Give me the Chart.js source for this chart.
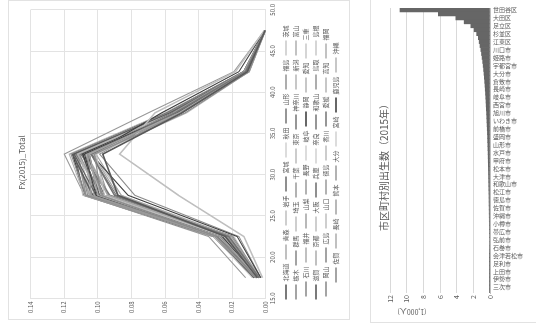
<!DOCTYPE html>
<html>
<head>
<meta charset="utf-8">
<script src="https://cdn.jsdelivr.net/npm/chart.js@4.4.0/dist/chart.umd.min.js"></script>
<style>
  html, body { margin: 0; padding: 0; background: #fff; }
  body { width: 536px; height: 333px; position: relative; overflow: hidden; }
  #leftBox {
    position: absolute; left: 8px; top: 320px;
    width: 320px; height: 342px;
    transform: rotate(-90deg); transform-origin: 0 0;
    border: 1px solid #e2e2e2; box-sizing: border-box;
  }
  #rightBox {
    position: absolute; left: 370px; top: 0;
    width: 166px; height: 323px;
    border-left: 1px solid #e2e2e2; border-bottom: 1px solid #e2e2e2;
    box-sizing: border-box;
  }
  canvas { display: block; }
</style>
</head>
<body>
<div id="leftBox"><canvas id="fx" width="318" height="340"></canvas></div>
<div id="rightBox"><canvas id="births" width="165" height="322"></canvas></div>
<script>
// age group midpoints (x axis of Fx chart)
var ages = [17.5, 22.5, 27.5, 32.5, 37.5, 42.5, 47.5];

var prefectures = ['北海道','青森','岩手','宮城','秋田','山形','福島','茨城','栃木','群馬',
  '埼玉','千葉','東京','神奈川','新潟','富山','石川','福井','山梨','長野',
  '岐阜','静岡','愛知','三重','滋賀','京都','大阪','兵庫','奈良','和歌山',
  '鳥取','島根','岡山','広島','山口','徳島','香川','愛媛','高知','福岡',
  '佐賀','長崎','熊本','大分','宮崎','鹿児島','沖縄'];

// Fx(2015) per prefecture, same order as above, one value per age group
var fxRates = [
  [0.005, 0.024, 0.088, 0.097, 0.050, 0.011, 0.0004],
  [0.006, 0.029, 0.098, 0.102, 0.048, 0.010, 0.0003],
  [0.005, 0.027, 0.100, 0.105, 0.052, 0.011, 0.0003],
  [0.004, 0.022, 0.090, 0.104, 0.054, 0.012, 0.0004],
  [0.004, 0.025, 0.096, 0.101, 0.047, 0.010, 0.0003],
  [0.004, 0.026, 0.101, 0.108, 0.053, 0.011, 0.0003],
  [0.006, 0.030, 0.104, 0.106, 0.051, 0.010, 0.0003],
  [0.005, 0.026, 0.098, 0.107, 0.054, 0.012, 0.0004],
  [0.005, 0.027, 0.099, 0.106, 0.053, 0.011, 0.0004],
  [0.005, 0.027, 0.097, 0.107, 0.054, 0.012, 0.0004],
  [0.004, 0.020, 0.088, 0.103, 0.055, 0.013, 0.0004],
  [0.004, 0.020, 0.089, 0.104, 0.056, 0.013, 0.0004],
  [0.002, 0.013, 0.052, 0.087, 0.066, 0.018, 0.0008],
  [0.003, 0.017, 0.082, 0.104, 0.062, 0.016, 0.0006],
  [0.004, 0.023, 0.097, 0.107, 0.052, 0.011, 0.0003],
  [0.003, 0.021, 0.099, 0.112, 0.055, 0.011, 0.0003],
  [0.003, 0.022, 0.101, 0.114, 0.057, 0.012, 0.0004],
  [0.004, 0.025, 0.107, 0.116, 0.058, 0.012, 0.0003],
  [0.004, 0.022, 0.094, 0.107, 0.055, 0.012, 0.0004],
  [0.003, 0.021, 0.097, 0.113, 0.059, 0.013, 0.0004],
  [0.004, 0.024, 0.101, 0.108, 0.051, 0.011, 0.0003],
  [0.004, 0.025, 0.100, 0.109, 0.054, 0.012, 0.0004],
  [0.004, 0.023, 0.097, 0.112, 0.057, 0.013, 0.0004],
  [0.005, 0.027, 0.102, 0.109, 0.052, 0.011, 0.0003],
  [0.004, 0.024, 0.103, 0.115, 0.058, 0.012, 0.0004],
  [0.003, 0.016, 0.078, 0.099, 0.055, 0.013, 0.0005],
  [0.005, 0.021, 0.086, 0.101, 0.054, 0.013, 0.0004],
  [0.004, 0.020, 0.093, 0.110, 0.057, 0.013, 0.0004],
  [0.004, 0.019, 0.086, 0.103, 0.054, 0.012, 0.0004],
  [0.006, 0.029, 0.102, 0.107, 0.051, 0.011, 0.0003],
  [0.005, 0.029, 0.107, 0.112, 0.055, 0.012, 0.0003],
  [0.004, 0.028, 0.108, 0.117, 0.060, 0.013, 0.0004],
  [0.005, 0.026, 0.099, 0.109, 0.055, 0.012, 0.0004],
  [0.005, 0.025, 0.100, 0.111, 0.056, 0.012, 0.0004],
  [0.006, 0.029, 0.105, 0.107, 0.050, 0.010, 0.0003],
  [0.005, 0.026, 0.096, 0.107, 0.053, 0.011, 0.0003],
  [0.006, 0.028, 0.104, 0.111, 0.054, 0.011, 0.0003],
  [0.006, 0.028, 0.100, 0.105, 0.051, 0.011, 0.0003],
  [0.006, 0.026, 0.094, 0.102, 0.050, 0.011, 0.0004],
  [0.006, 0.025, 0.093, 0.107, 0.057, 0.013, 0.0004],
  [0.007, 0.030, 0.108, 0.114, 0.057, 0.012, 0.0003],
  [0.007, 0.030, 0.106, 0.112, 0.056, 0.012, 0.0004],
  [0.007, 0.030, 0.105, 0.113, 0.058, 0.013, 0.0004],
  [0.007, 0.029, 0.102, 0.109, 0.055, 0.012, 0.0004],
  [0.008, 0.031, 0.109, 0.113, 0.056, 0.012, 0.0003],
  [0.007, 0.031, 0.108, 0.115, 0.059, 0.013, 0.0004],
  [0.012, 0.034, 0.108, 0.120, 0.070, 0.019, 0.0008]
];

var ageTicks = [15, 50, 5];       // min, max, step
var fxTicks = [0, 0.14, 0.02];

// births by municipality, sorted, in thousands
var cities = ['世田谷区','練馬区','大田区','江戸川区','足立区','船橋市','杉並区','板橋区','江東区','品川区',
  '川口市','八王子市','姫路市','松山市','宇都宮市','金沢市','大分市','高松市','倉敷市','豊田市',
  '長崎市','富山市','岐阜市','那覇市','西宮市','鹿児島市','旭川市','郡山市','いわき市','高崎市',
  '前橋市','秋田市','盛岡市','青森市','山形市','福島市','水戸市','つくば市','甲府市','長野市',
  '松本市','津市','大津市','奈良市','和歌山市','鳥取市','松江市','山口市','徳島市','高知市',
  '佐賀市','宮崎市','沖縄市','函館市','小樽市','釧路市','帯広市','北見市','弘前市','八戸市',
  '石巻市','酒田市','会津若松市','日立市','足利市','桐生市','上田市','飯田市','伊勢市','舞鶴市',
  '三次市','利島村'];
var births = [10.8, 6.2, 4.1, 3.1, 2.3, 1.9, 1.6, 1.4, 1.3, 1.2,
  1.1, 1.02, 0.95, 0.88, 0.82, 0.77, 0.72, 0.68, 0.64, 0.6,
  0.57, 0.54, 0.51, 0.48, 0.46, 0.44, 0.41, 0.39, 0.37, 0.35,
  0.33, 0.31, 0.29, 0.28, 0.26, 0.25, 0.23, 0.22, 0.21, 0.2,
  0.19, 0.18, 0.17, 0.16, 0.15, 0.14, 0.13, 0.12, 0.115, 0.11,
  0.1, 0.095, 0.09, 0.085, 0.08, 0.075, 0.07, 0.065, 0.06, 0.055,
  0.05, 0.045, 0.04, 0.036, 0.032, 0.028, 0.024, 0.02, 0.016, 0.012,
  0.008, 0.004];
var birthTicks = [0, 12, 2];

Chart.defaults.font.family = '"Noto Sans CJK JP", "Noto Sans", sans-serif';
Chart.defaults.color = '#595959';
Chart.defaults.animation = false;

var grays = ['#595959', '#8c8c8c', '#a6a6a6', '#737373', '#bfbfbf', '#404040', '#999999', '#b3b3b3'];

var fxSets = prefectures.map(function(name, k) {
  return {
    label: name,
    data: ages.map(function(a, j) { return {x: a, y: fxRates[k][j]}; }),
    borderColor: grays[k % grays.length],
    backgroundColor: grays[k % grays.length],
    borderWidth: (k % 3 == 0) ? 1.6 : 1.1,
    pointRadius: 0,
    tension: 0
  };
});

new Chart(document.getElementById('fx'), {
  type: 'line',
  data: { datasets: fxSets },
  options: {
    responsive: false,
    devicePixelRatio: 1,
    layout: { padding: { left: 3, right: 8, top: 0, bottom: 0 } },
    plugins: {
      title: {
        display: true, text: 'Fx(2015)_Total',
        font: { size: 8, weight: 'normal' }, color: '#595959',
        padding: { top: 8, bottom: 4 }
      },
      legend: {
        position: 'bottom',
        labels: {
          usePointStyle: true, pointStyle: 'line', pointStyleWidth: 15,
          font: { size: 6 }, padding: 4, color: '#595959'
        }
      },
      tooltip: { enabled: false }
    },
    scales: {
      x: {
        type: 'linear', min: ageTicks[0], max: ageTicks[1],
        ticks: { stepSize: ageTicks[2], font: { size: 6 }, padding: 3,
          callback: function(v) { return v.toFixed(1); } },
        grid: { color: '#e3e3e3', drawTicks: false },
        border: { color: '#e3e3e3' }
      },
      y: {
        min: fxTicks[0], max: fxTicks[1],
        ticks: { stepSize: fxTicks[2], font: { size: 6 }, padding: 3,
          callback: function(v) { return v.toFixed(2); } },
        grid: { color: '#e3e3e3', drawTicks: false },
        border: { color: '#e3e3e3' }
      }
    }
  }
});

// "(1,000人)" label, upside down like the reference
var unitLabel = {
  id: 'unitLabel',
  afterDraw: function(chart) {
    var ctx = chart.ctx, area = chart.chartArea;
    ctx.save();
    ctx.translate(area.left + 22, area.bottom + 19);
    ctx.rotate(Math.PI);
    ctx.font = '7px "Noto Sans CJK JP"';
    ctx.fillStyle = '#595959';
    ctx.textAlign = 'center';
    ctx.textBaseline = 'middle';
    ctx.fillText('(1,000人)', 0, 0);
    ctx.restore();
  }
};

new Chart(document.getElementById('births'), {
  type: 'bar',
  data: {
    labels: cities,
    datasets: [{
      data: births,
      backgroundColor: '#666666',
      borderWidth: 0,
      barPercentage: 1,
      categoryPercentage: 1
    }]
  },
  plugins: [unitLabel],
  options: {
    indexAxis: 'y',
    responsive: false,
    devicePixelRatio: 1,
    layout: { padding: { top: 8, left: 0, right: 0, bottom: 0 } },
    plugins: {
      legend: { display: false },
      tooltip: { enabled: false },
      title: {
        display: true, position: 'left', text: '市区町村別出生数（2015年）',
        font: { size: 10, weight: 'normal' }, color: '#595959',
        padding: { top: 7, bottom: 0 }
      }
    },
    scales: {
      x: {
        reverse: true, min: birthTicks[0], max: birthTicks[1],
        ticks: { stepSize: birthTicks[2], font: { size: 7 }, minRotation: 90, maxRotation: 90, padding: 2 },
        grid: { color: '#d9d9d9', drawTicks: false },
        border: { display: false },
        afterFit: function(s) { s.height = 29; }
      },
      y: {
        position: 'right',
        ticks: {
          font: { size: 6 }, padding: 3, autoSkip: false,
          callback: function(v, i) { return i % 2 == 0 ? this.getLabelForValue(v) : ''; }
        },
        grid: { drawOnChartArea: false, drawTicks: false },
        border: { color: '#bfbfbf' },
        afterFit: function(s) { s.width = 46; }
      }
    }
  }
});
</script>
</body>
</html>
